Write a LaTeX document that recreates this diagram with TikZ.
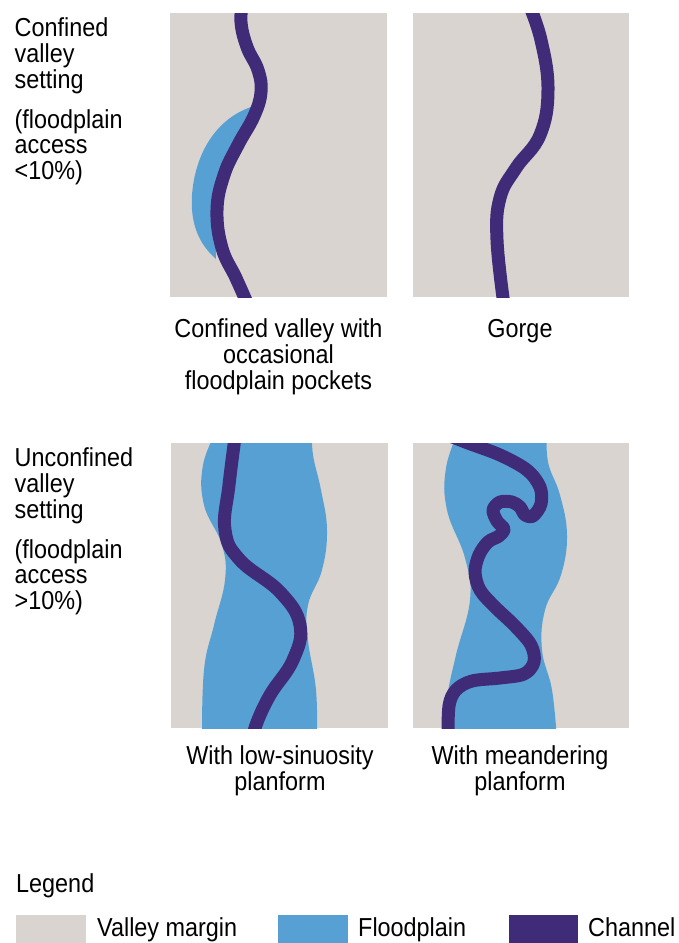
\documentclass[tikz,border=0pt]{standalone}
\usepackage{fontspec}
\setmainfont[FakeStretch=0.9]{Liberation Sans}
\definecolor{margin}{RGB}{217,212,207}
\definecolor{flood}{RGB}{87,160,211}
\definecolor{chan}{RGB}{64,43,120}
\begin{document}
\begin{tikzpicture}[x=1pt,y=-1pt,
  lab/.style={inner sep=0pt, font=\fontsize{26}{28}\selectfont},
  labw/.style={lab, anchor=base west},
  labc/.style={lab, anchor=base},
  chanline/.style={draw=chan, line width=13pt, line cap=butt, line join=round},
  marginfill/.style={fill=margin},
  floodfill/.style={fill=flood}]
\useasboundingbox (0,0) rectangle (678,943);

% ---------- Panel 1: confined valley with floodplain pockets
\fill[marginfill] (170,13) rectangle (387,297);
\begin{scope}
  \clip (170,13) rectangle (387,297);
  \fill[floodfill] (254,106) .. controls (215,118) and (195,155) .. (192,195)
     .. controls (190,225) and (200,245) .. (216,259)
     .. controls (214,215) and (228,150) .. (254,106) -- cycle;
  \draw[chanline] plot[smooth, tension=0.7] coordinates {(243,0) (241,22) (247,47) (258,70) (261,92) (254,116) (238,145) (224,175) (217,210) (222,248) (236,278) (248,305)};
\end{scope}

% ---------- Panel 2: gorge
\fill[marginfill] (413,13) rectangle (629,297);
\begin{scope}
  \clip (413,13) rectangle (629,297);
  \draw[chanline] plot[smooth, tension=0.7] coordinates {(528,2) (541,40) (548,90) (540,135) (516,168) (500,198) (497,240) (504,305)};
\end{scope}

% ---------- Panel 3: low sinuosity
\fill[marginfill] (171,443) rectangle (388,728);
\begin{scope}
  \clip (171,443) rectangle (388,728);
  \fill[floodfill] plot[smooth, tension=0.7] coordinates {(217,430) (203,465) (204,505) (222,545) (225,580) (214,625) (204,670) (202,740)}
    -- plot[smooth, tension=0.7] coordinates {(317,740) (316,690) (308,640) (308,605) (322,570) (327,530) (321,490) (313,455) (312,430)} -- cycle;
  \draw[chanline] plot[smooth, tension=0.7] coordinates {(236,430) (229,485) (225,530) (240,560) (280,592) (300,625) (293,660) (270,695) (256,725) (253,740)};
\end{scope}

% ---------- Panel 4: meandering
\fill[marginfill] (413,443) rectangle (629,728);
\begin{scope}
  \clip (413,443) rectangle (629,728);
  \fill[floodfill] plot[smooth, tension=0.7] coordinates {(459,430) (446,468) (447,510) (465,558) (470,600) (456,655) (447,700) (447,740)}
    -- plot[smooth, tension=0.7] coordinates {(557,740) (552,690) (542,650) (545,610) (561,575) (567,535) (560,495) (548,462) (547,430)} -- cycle;
  \draw[chanline] plot[smooth, tension=0.55] coordinates {(445,434) (468,443) (500,455) (527,470) (540,487) (541,504) (533,516) (525,515) (520,507) (512,502) (500,502) (493,510) (497,521) (504,529) (499,536) (488,542) (479,555) (475,572) (480,590) (495,607) (515,626) (531,645) (534,662) (524,674) (500,678) (472,681) (456,690) (449,706) (448,740)};
\end{scope}

% ---------- Row labels
\node[labw] (t1) at (14.5,36.5) {Confined};
\node[labw] (t2) at (14.5,62.5) {valley};
\node[labw] (t3) at (14.5,88) {setting};
\node[labw] (t4) at (14.5,128.5) {(floodplain};
\node[labw] (t5) at (14.5,153.5) {access};
\node[labw] (t6) at (14.5,179) {<10\%)};

\node[labw] (u1) at (14.5,466.5) {Unconfined};
\node[labw] (u2) at (14.5,492.5) {valley};
\node[labw] (u3) at (14.5,518) {setting};
\node[labw] (u4) at (14.5,558.5) {(floodplain};
\node[labw] (u5) at (14.5,583.5) {access};
\node[labw] (u6) at (14.5,609) {>10\%)};

% ---------- Panel captions
\node[labc] (c1a) at (278.5,337) {Confined valley with};
\node[labc] (c1b) at (278.5,363) {occasional};
\node[labc] (c1c) at (278.5,389) {floodplain pockets};
\node[labc] (c2a) at (520,337) {Gorge};
\node[labc] (c3a) at (280,764) {With low-sinuosity};
\node[labc] (c3b) at (280,790) {planform};
\node[labc] (c4a) at (520,764) {With meandering};
\node[labc] (c4b) at (520,790) {planform};

% ---------- Legend
\node[labw] (leg) at (16,892) {Legend};
\fill[marginfill] (16,915) rectangle (86,943);
\node[labw] (l1) at (97,936) {Valley margin};
\fill[floodfill] (278,915) rectangle (348,943);
\node[labw] (l2) at (358,936) {Floodplain};
\fill[fill=chan] (509,915) rectangle (578,943);
\node[labw] (l3) at (588,936) {Channel};
\end{tikzpicture}
\end{document}
